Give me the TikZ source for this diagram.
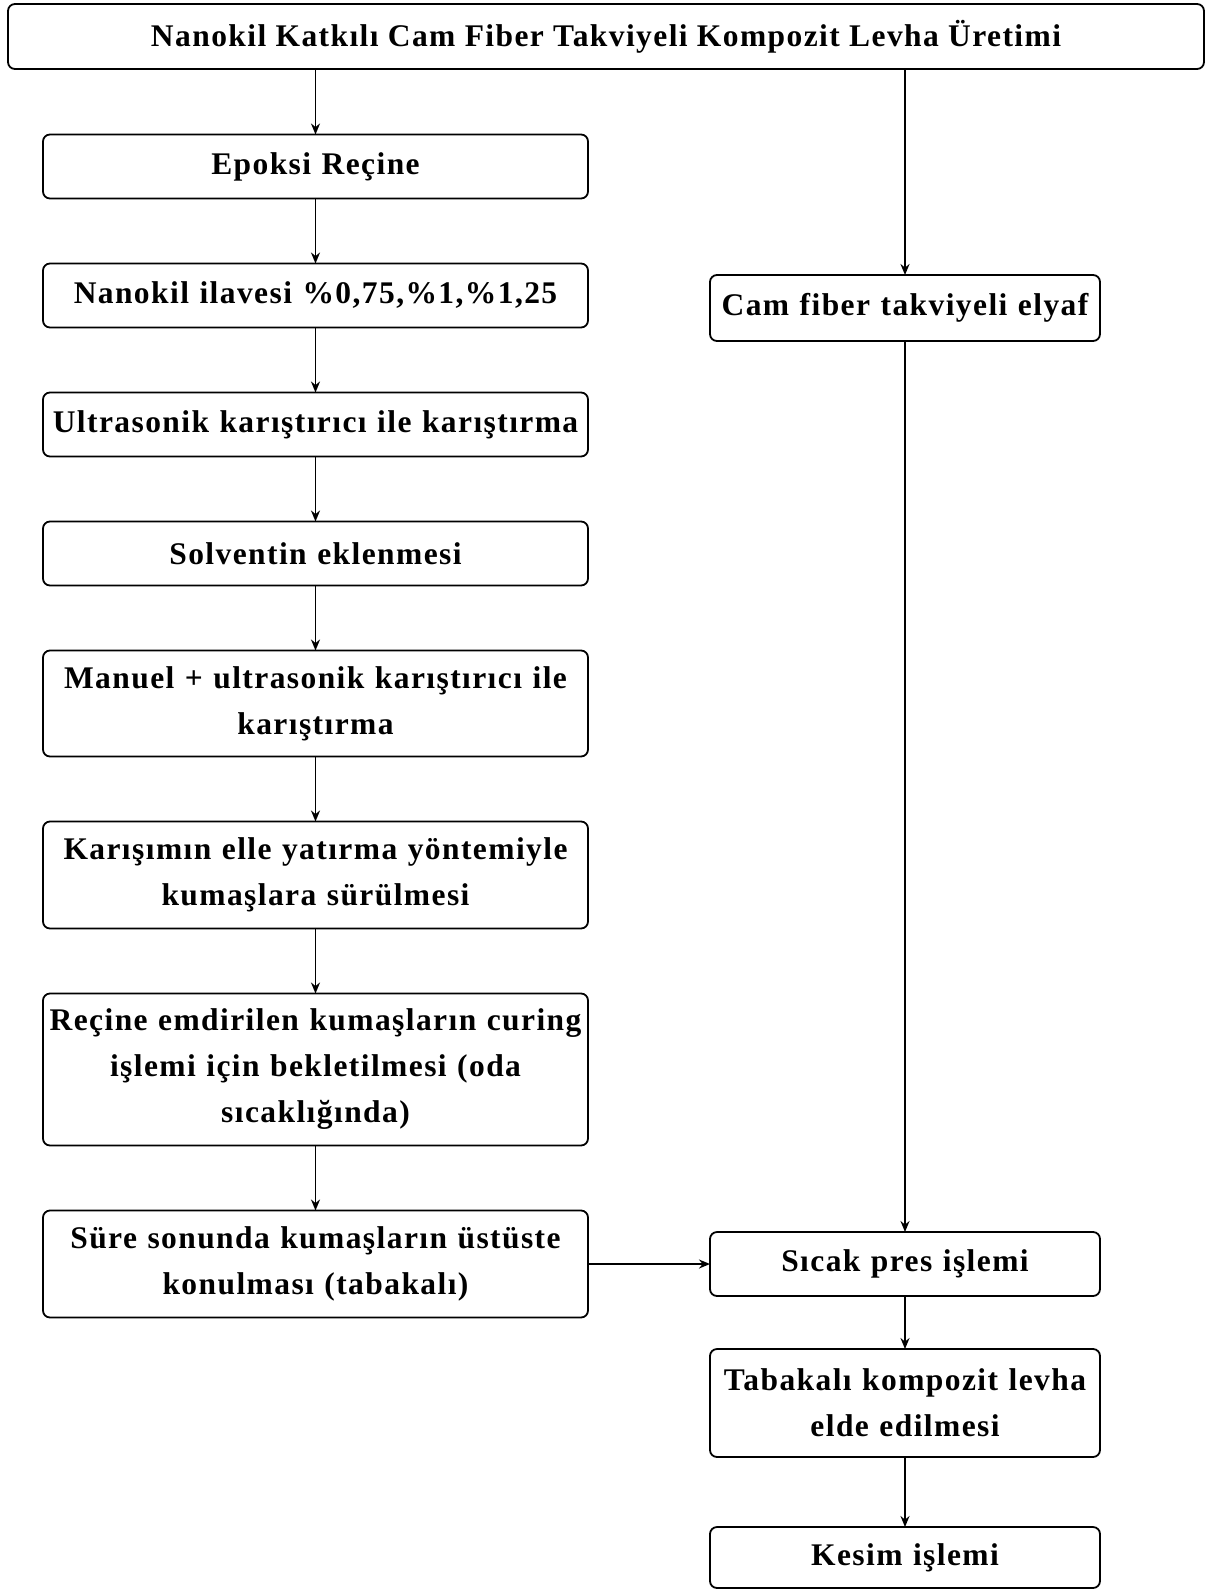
\documentclass[tikz,border=0pt]{standalone}
\usepackage{fontspec}
\setmainfont[LetterSpace=4.5]{Liberation Serif}
\usepackage{tikz}
\usetikzlibrary{positioning, calc}
\usetikzlibrary{arrows.meta}
\tikzstyle{stepbox}=[rectangle,rounded corners=7pt,line width=1.8pt,
draw=black,align=center,inner sep=0pt,outer sep=0pt,minimum height=64pt,
font=\bfseries\fontsize{31.5}{46}\selectfont]
\tikzstyle{leftbox}=[stepbox,minimum width=545pt,text width=540pt]
\tikzstyle{rightbox}=[stepbox,minimum width=390pt,text width=385pt]
\tikzstyle{edgepath} = [-{Stealth[length=11pt,width=9pt]},line width=1.9pt]

\begin{document}
\begin{tikzpicture}[x=1pt,y=-1pt]
    \useasboundingbox (0,0) rectangle (1218,1591);
    \node[stepbox, minimum width=1196pt, minimum height=65pt] (title) at (606,36.5)
        {Nanokil Katkılı Cam Fiber Takviyeli Kompozit Levha Üretimi};

    % left column
    \node[leftbox] (epoksi) at (315.5,166.5) {Epoksi Reçine};
    \node[leftbox, below=65pt of epoksi] (nanokil) {Nanokil ilavesi \%0,75,\%1,\%1,25};
    \node[leftbox, below=65pt of nanokil] (ultra) {Ultrasonik karıştırıcı ile karıştırma};
    \node[leftbox, below=65pt of ultra] (solvent) {Solventin eklenmesi};
    \node[leftbox, below=65pt of solvent, minimum height=106pt] (manuel)
        {Manuel + ultrasonik karıştırıcı ile\\karıştırma};
    \node[leftbox, below=65pt of manuel, minimum height=107pt] (karisim)
        {Karışımın elle yatırma yöntemiyle\\kumaşlara sürülmesi};
    \node[leftbox, below=65pt of karisim, minimum height=152pt] (curing)
        {Reçine emdirilen kumaşların curing\\işlemi için bekletilmesi (oda\\sıcaklığında)};
    \node[leftbox, below=65pt of curing, minimum height=107pt] (sure)
        {Süre sonunda kumaşların üstüste\\konulması (tabakalı)};

    % right column
    \node[rightbox, minimum height=66pt] (cam) at (905,308) {Cam fiber takviyeli elyaf};
    \node[rightbox, right=122pt of sure] (pres) {Sıcak pres işlemi};
    \node[rightbox, below=53pt of pres, minimum height=108pt] (levha)
        {Tabakalı kompozit levha\\elde edilmesi};
    \node[rightbox, below=70pt of levha, minimum height=61pt] (kesim) {Kesim işlemi};

    \path[edgepath]
        (title.south -| epoksi.north) edge (epoksi.north)
        (epoksi) edge (nanokil)
        (nanokil) edge (ultra)
        (ultra) edge (solvent)
        (solvent) edge (manuel)
        (manuel) edge (karisim)
        (karisim) edge (curing)
        (curing) edge (sure)
        (sure) edge (pres);

    \path[edgepath]
        (title.south -| cam.north) edge (cam.north)
        (cam) edge (pres)
        (pres) edge (levha)
        (levha) edge (kesim);
\end{tikzpicture}
\end{document}
